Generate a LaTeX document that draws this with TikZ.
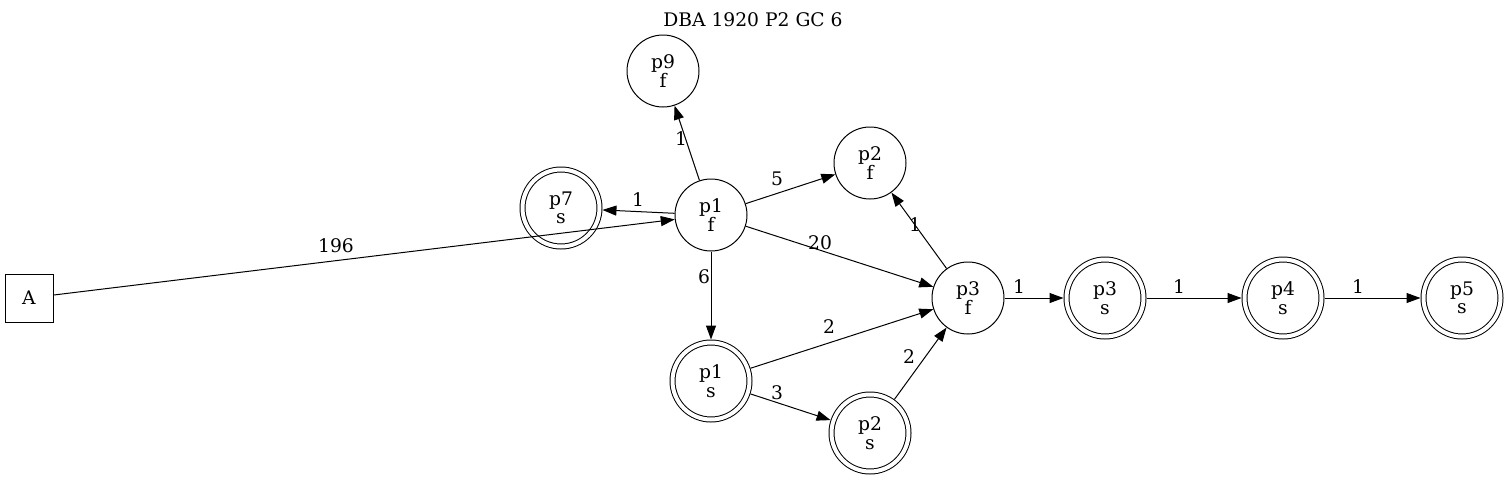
\documentclass[tikz,border=0pt]{standalone}
\usepackage{fontspec}
\setmainfont{DejaVu Serif}
\usetikzlibrary{arrows.meta}
\begin{document}
\begin{tikzpicture}[x=1pt,y=-1pt,
  every node/.style={font=\fontsize{18.7}{18.5}\selectfont},
  st/.style={circle,draw,line width=1pt,minimum size=72pt,inner sep=0pt,outer sep=0.5pt,align=center},
  acc/.style={circle,draw,line width=1pt,double,double distance=4pt,minimum size=77pt,inner sep=0pt,outer sep=3pt,align=center},
  box/.style={rectangle,draw,line width=1pt,minimum size=48pt,inner sep=0pt},
  edge/.style={line width=1pt,-{Triangle[length=14pt,width=10pt]}},
  lbl/.style={inner sep=0pt}]
\useasboundingbox (0,0) rectangle (1508,480);
\node (title) at (753,20) {DBA 1920 P2 GC 6};
\node[box] (A) at (29,298) {A};
\node[st] (p1f) at (711,215) {p1\\f};
\node[acc] (p7s) at (561,208) {p7\\s};
\node[st] (p9f) at (663,71) {p9\\f};
\node[st] (p2f) at (870,163) {p2\\f};
\node[st] (p3f) at (968,298) {p3\\f};
\node[acc] (p1s) at (711,381) {p1\\s};
\node[acc] (p2s) at (870,433) {p2\\s};
\node[acc] (p3s) at (1105,298) {p3\\s};
\node[acc] (p4s) at (1283,298) {p4\\s};
\node[acc] (p5s) at (1462,298) {p5\\s};
\draw[edge] (A) -- (p1f);
\draw[edge] (p1f) -- (p9f);
\draw[edge] (p1f) -- (p2f);
\draw[edge] (p1f) -- (p7s);
\draw[edge] (p1f) -- (p3f);
\draw[edge] (p1f) -- (p1s);
\draw[edge] (p1s) -- (p3f);
\draw[edge] (p1s) -- (p2s);
\draw[edge] (p2s) -- (p3f);
\draw[edge] (p3f) -- (p2f);
\draw[edge] (p3f) -- (p3s);
\draw[edge] (p3s) -- (p4s);
\draw[edge] (p4s) -- (p5s);
\node[lbl] (l1) at (336,246) {196};
\node[lbl] (l2) at (681,139) {1};
\node[lbl] (l3) at (777,179) {5};
\node[lbl] (l4) at (638,200) {1};
\node[lbl] (l5) at (820,243) {20};
\node[lbl] (l6) at (704,277) {6};
\node[lbl] (l7) at (829,327) {2};
\node[lbl] (l8) at (777,393) {3};
\node[lbl] (l9) at (909,357) {2};
\node[lbl] (l10) at (915,225) {1};
\node[lbl] (l11) at (1019,287) {1};
\node[lbl] (l12) at (1179,287) {1};
\node[lbl] (l13) at (1358,287) {1};
\end{tikzpicture}
\end{document}
